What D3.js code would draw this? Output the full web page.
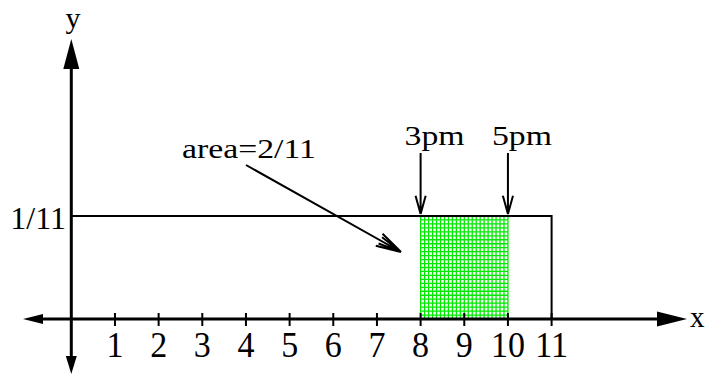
<!DOCTYPE html>
<html lang="en">
<head>
    <meta charset="UTF-8">
    <script src="https://cdn.jsdelivr.net/npm/d3@7"></script>
    <style>
        body{ margin:0; background:#fff; }
        text{ font-family:"Liberation Serif","Times New Roman",serif; fill:#000; }
    </style>
    <title>uniform density</title>
</head>
<body>
    <svg width="705" height="375"></svg>
    <script>
        // data
        var xTicks = [1, 2, 3, 4, 5, 6, 7, 8, 9, 10, 11];
        var support = [0, 11];          // density is 1/11 on [0, 11]
        var density = 1 / 11;
        var shaded = [8, 10];           // 3pm .. 5pm
        var timeLabels = ["3pm", "5pm"];
        var densityLabel = "1/11";
        var areaLabel = "area=2/11";

        var svg = d3.select("svg");
        var x = d3.scaleLinear().domain([0, 11]).range([71.3, 551.6]);
        var y = d3.scaleLinear().domain([0, density]).range([319, 216]);

        // arrow head as a filled triangle, tip at (tx,ty), pointing along angle a
        function head(tx, ty, a, len, hw) {
            var bx = tx - len * Math.cos(a), by = ty - len * Math.sin(a);
            var px = -Math.sin(a) * hw, py = Math.cos(a) * hw;
            return "M" + tx + "," + ty + "L" + (bx + px) + "," + (by + py) + "L" + (bx - px) + "," + (by - py) + "Z";
        }
        // open (barbed) arrow head
        function barbs(tx, ty, a, len, ang) {
            var p = "";
            [ang, -ang].forEach(function(d){
                var b = a + Math.PI + d;
                p += "M" + (tx + len * Math.cos(b)) + "," + (ty + len * Math.sin(b)) + "L" + tx + "," + ty;
            });
            return p;
        }

        // green grid over the shaded interval
        var g = svg.append("g").attr("stroke", "#00e800").attr("stroke-width", 1.3);
        g.selectAll(".gv").data(d3.range(shaded[0], shaded[1] + 1e-9, (shaded[1] - shaded[0]) / 22))
            .enter().append("line")
            .attr("x1", function(d){ return x(d); }).attr("x2", function(d){ return x(d); })
            .attr("y1", y(density)).attr("y2", y(0));
        g.selectAll(".gh").data(d3.range(0, density + 1e-9, density / 26))
            .enter().append("line")
            .attr("x1", x(shaded[0])).attr("x2", x(shaded[1]))
            .attr("y1", function(d){ return y(d); }).attr("y2", function(d){ return y(d); });

        // density rectangle
        svg.append("path")
            .attr("d", "M" + x(support[0]) + "," + y(density) + "H" + x(support[1]) + "V" + y(0))
            .attr("fill", "none").attr("stroke", "#000").attr("stroke-width", 2);

        // axes
        svg.append("line").attr("x1", 38).attr("x2", 662).attr("y1", y(0)).attr("y2", y(0))
            .attr("stroke", "#000").attr("stroke-width", 3);
        svg.append("line").attr("x1", x(0)).attr("x2", x(0)).attr("y1", 60).attr("y2", 360)
            .attr("stroke", "#000").attr("stroke-width", 3);
        svg.append("path").attr("d", head(687, y(0), 0, 30, 7.5));
        svg.append("path").attr("d", head(23, y(0), Math.PI, 20, 5));
        svg.append("path").attr("d", head(x(0), 39, -Math.PI / 2, 30, 8));
        svg.append("path").attr("d", head(x(0), 374, Math.PI / 2, 18, 5.5));

        // ticks
        svg.selectAll(".tick").data(xTicks).enter().append("line")
            .attr("x1", function(d){ return x(d); }).attr("x2", function(d){ return x(d); })
            .attr("y1", y(0) - 6).attr("y2", y(0) + 7)
            .attr("stroke", "#000").attr("stroke-width", 2);
        svg.selectAll(".tl").data(xTicks).enter().append("text")
            .attr("transform", function(d){ return "translate(" + x(d) + ",357) scale(1,1.06)"; })
            .attr("text-anchor", "middle").attr("font-size", 34)
            .text(function(d){ return d; });

        svg.append("text").attr("x", 66).attr("y", 229).attr("text-anchor", "end")
            .attr("font-size", 32).text(densityLabel);
        svg.append("text").attr("x", 690).attr("y", 327).attr("font-size", 29).text("x");
        svg.append("text").attr("x", 73).attr("y", 28).attr("text-anchor", "middle")
            .attr("font-size", 30).text("y");

        // 3pm / 5pm markers
        shaded.forEach(function(d, i){
            var cx = x(d);
            svg.append("text").attr("transform", "translate(" + (cx - 16) + ",145) scale(1.25,1)")
                .attr("font-size", 27).text(timeLabels[i]);
            svg.append("path")
                .attr("d", "M" + cx + ",153V" + (y(density) - 2) + barbs(cx, y(density) - 2, Math.PI / 2, 19, 0.27))
                .attr("fill", "none").attr("stroke", "#000").attr("stroke-width", 2);
        });

        // area label and pointer
        svg.append("text").attr("transform", "translate(182,158) scale(1.25,1)")
            .attr("font-size", 27).text(areaLabel);
        var ax0 = 246, ay0 = 165, ax1 = 401, ay1 = 252;
        var ang = Math.atan2(ay1 - ay0, ax1 - ax0);
        svg.append("path")
            .attr("d", "M" + ax0 + "," + ay0 + "L" + ax1 + "," + ay1 + barbs(ax1, ay1, ang, 26, 0.27) + barbs(ax1, ay1, ang, 24, 0.15))
            .attr("fill", "none").attr("stroke", "#000").attr("stroke-width", 2);
    </script>
</body>
</html>
